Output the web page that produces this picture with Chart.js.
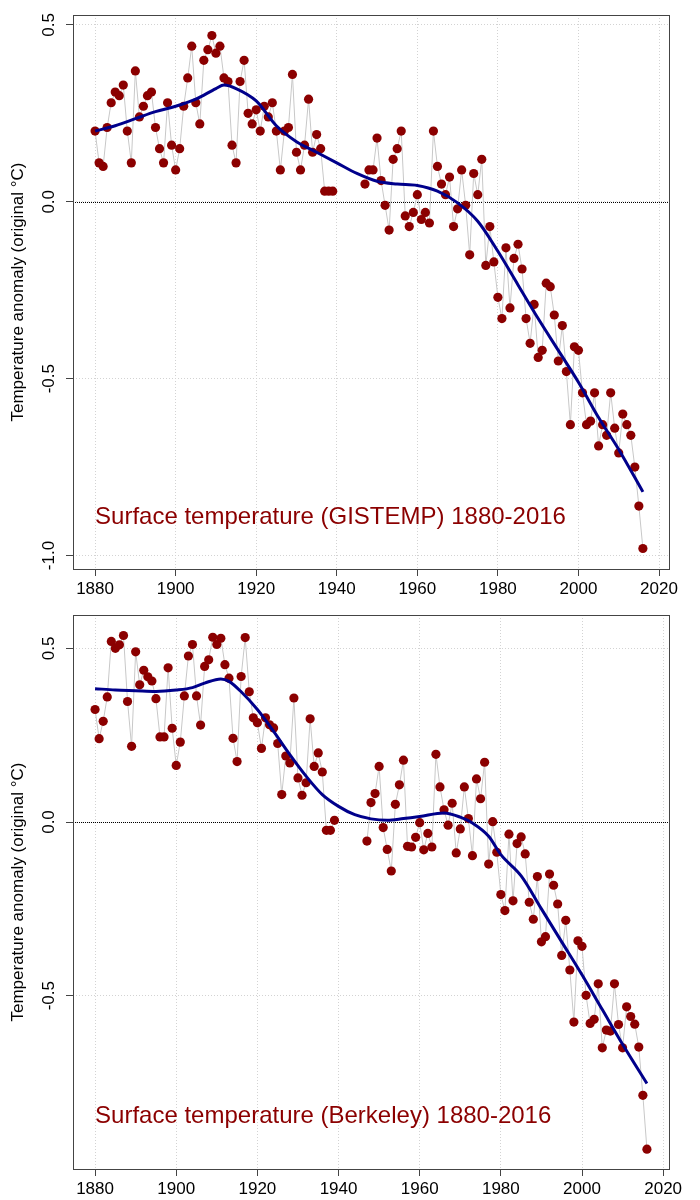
<!DOCTYPE html>
<html><head><meta charset="utf-8">
<script src="https://cdn.jsdelivr.net/npm/chart.js@4"></script>
<style>
html,body{margin:0;padding:0;background:#fff;}
canvas{display:block;}
</style></head>
<body>
<canvas id="c1" width="700" height="600"></canvas>
<canvas id="c2" width="700" height="600"></canvas>
<script>
// ---------- data ----------
const years = Array.from({length: 137}, (_, i) => 1880 + i);

const gistemp = [
  0.20,0.11,0.10,0.21,0.28,0.31,0.30,0.33,0.20,0.11,   // 1880-1889
  0.37,0.24,0.27,0.30,0.31,0.21,0.15,0.11,0.28,0.16,   // 1890-1899
  0.09,0.15,0.27,0.35,0.44,0.28,0.22,0.40,0.43,0.47,   // 1900-1909
  0.42,0.44,0.35,0.34,0.16,0.11,0.34,0.40,0.25,0.22,   // 1910-1919
  0.26,0.20,0.27,0.24,0.28,0.20,0.09,0.20,0.21,0.36,   // 1920-1929
  0.14,0.09,0.16,0.29,0.14,0.19,0.15,0.03,0.03,0.03,   // 1930-1939
  null,null,null,null,null,null,null,0.05,0.09,0.09,   // 1940-1949
  0.18,0.06,-0.01,-0.08,0.12,0.15,0.20,-0.04,-0.07,-0.03, // 1950-1959
  0.02,-0.05,-0.03,-0.06,0.20,0.10,0.05,0.02,0.07,-0.07,  // 1960-1969
  -0.02,0.09,-0.01,-0.15,0.08,0.02,0.12,-0.18,-0.07,-0.17, // 1970-1979
  -0.27,-0.33,-0.13,-0.30,-0.16,-0.12,-0.19,-0.33,-0.40,-0.29, // 1980-1989
  -0.44,-0.42,-0.23,-0.24,-0.32,-0.45,-0.35,-0.48,-0.63,-0.41, // 1990-1999
  -0.42,-0.54,-0.63,-0.62,-0.54,-0.69,-0.63,-0.66,-0.54,-0.64, // 2000-2009
  -0.71,-0.60,-0.63,-0.66,-0.75,-0.86,-0.98                     // 2010-2016
];

const berkeley = [
  0.324,0.24,0.29,0.36,0.52,0.50,0.51,0.537,0.347,0.218,     // 1880-1889
  0.49,0.395,0.437,0.418,0.406,0.355,0.245,0.245,0.444,0.27, // 1890-1899
  0.163,0.23,0.363,0.478,0.511,0.363,0.279,0.448,0.467,0.532,// 1900-1909
  0.511,0.529,0.453,0.414,0.241,0.174,0.419,0.531,0.375,0.30,// 1910-1919
  0.286,0.212,0.30,0.28,0.271,0.226,0.079,0.19,0.17,0.357,   // 1920-1929
  0.127,0.077,0.113,0.297,0.16,0.199,0.144,-0.024,-0.024,0.005, // 1930-1939
  null,null,null,null,null,null,null,-0.055,0.056,0.082,     // 1940-1949
  0.16,-0.016,-0.079,-0.141,0.051,0.107,0.178,-0.07,-0.072,-0.044, // 1950-1959
  -0.002,-0.08,-0.033,-0.072,0.195,0.101,0.035,-0.009,0.054,-0.089, // 1960-1969
  -0.02,0.101,0.01,-0.097,0.124,0.067,0.172,-0.121,0.001,-0.087,    // 1970-1979
  -0.209,-0.255,-0.035,-0.227,-0.062,-0.043,-0.092,-0.231,-0.28,-0.157, // 1980-1989
  -0.345,-0.33,-0.15,-0.182,-0.236,-0.384,-0.283,-0.426,-0.576,-0.342,  // 1990-1999
  -0.358,-0.499,-0.58,-0.568,-0.466,-0.65,-0.599,-0.602,-0.466,-0.583,  // 2000-2009
  -0.65,-0.532,-0.56,-0.582,-0.648,-0.787,-0.942                         // 2010-2016
];

const smoothYears1 = [1880,1885,1890,1895,1900,1905,1910,1912,1915,1920,1925,1930,1935,1940,1945,1950,1955,1960,1965,1970,1975,1980,1985,1990,1995,2000,2005,2010,2016];
const smoothVals1  = [0.20,0.215,0.235,0.255,0.27,0.29,0.32,0.33,0.32,0.285,0.215,0.17,0.14,0.11,0.08,0.058,0.05,0.046,0.03,-0.003,-0.055,-0.14,-0.235,-0.33,-0.42,-0.51,-0.61,-0.70,-0.82];

const smoothYears2 = [1880,1885,1890,1895,1900,1904,1907,1911,1913,1916,1920,1924,1928,1932,1936,1940,1944,1948,1952,1956,1960,1966,1970,1973,1977,1980,1985,1990,1995,2000,2005,2010,2016];
const smoothVals2  = [0.384,0.38,0.378,0.376,0.38,0.387,0.40,0.412,0.405,0.375,0.324,0.261,0.194,0.132,0.079,0.045,0.021,0.009,0.005,0.01,0.016,0.026,0.014,-0.003,-0.041,-0.094,-0.155,-0.25,-0.345,-0.44,-0.54,-0.64,-0.753];

const xTicks = [1880,1900,1920,1940,1960,1980,2000,2020];
const yTicks1 = [-1.0,-0.5,0.0,0.5];
const yTicks2 = [-0.5,0.0,0.5];

const title1 = 'Surface temperature (GISTEMP) 1880-2016';
const title2 = 'Surface temperature (Berkeley) 1880-2016';
const yTitle = 'Temperature anomaly (original \u00B0C)';

// ---------- drawing ----------
const FONT = "'Liberation Sans', Arial, Helvetica, sans-serif";

const framePlugin = {
  id: 'frame',
  beforeDatasetsDraw(chart) {
    const {ctx, chartArea: a, scales: {y}} = chart;
    const y0 = Math.round(y.getPixelForValue(0)) + 0.5;
    ctx.save();
    ctx.strokeStyle = '#000';
    ctx.lineWidth = 1;
    ctx.setLineDash([1, 1]);
    ctx.beginPath();
    ctx.moveTo(a.left, y0);
    ctx.lineTo(a.right, y0);
    ctx.stroke();
    ctx.restore();
  },
  afterDatasetsDraw(chart, args, opts) {
    const {ctx, chartArea: a, scales: {y}} = chart;
    ctx.save();
    // box
    ctx.strokeStyle = '#444';
    ctx.lineWidth = 1;
    ctx.setLineDash([]);
    ctx.strokeRect(Math.round(a.left) + 0.5, Math.round(a.top) + 0.5,
                   Math.round(a.right - a.left), Math.round(a.bottom - a.top));
    // rotated y tick labels
    ctx.fillStyle = '#000';
    ctx.font = '17px ' + FONT;
    ctx.textAlign = 'center';
    ctx.textBaseline = 'middle';
    y.ticks.forEach(t => {
      const py = y.getPixelForValue(t.value);
      ctx.save();
      ctx.translate(49, py);
      ctx.rotate(-Math.PI / 2);
      ctx.fillText(t.value.toFixed(1), 0, 0);
      ctx.restore();
    });
    // inner label
    ctx.fillStyle = '#8B0000';
    ctx.font = '24px ' + FONT;
    ctx.textAlign = 'left';
    ctx.textBaseline = 'alphabetic';
    ctx.fillText(opts.label, chart.scales.x.getPixelForValue(1880), opts.labelY);
    ctx.restore();
  }
};

function makeChart(id, vals, sYears, sVals, xMin, xMax, yMin, yMax, yTicks, label, labelY) {
  const pts = years.map((yr, i) => ({x: yr, y: vals[i]}));
  const smooth = sYears.map((yr, i) => ({x: yr, y: sVals[i]}));
  const gridOpts = {color: '#D3D3D3', lineWidth: 1, tickColor: '#444', tickLength: 7, tickWidth: 1, drawTicks: true};
  return new Chart(document.getElementById(id), {
    type: 'line',
    data: {datasets: [
      {data: smooth, borderColor: '#00008B', borderWidth: 3, pointRadius: 0,
       cubicInterpolationMode: 'monotone', fill: false, order: 0},
      {data: pts, borderColor: '#C8C8C8', borderWidth: 1, pointRadius: 4.6,
       pointBackgroundColor: '#8B0000', pointBorderColor: '#8B0000', pointBorderWidth: 0,
       spanGaps: false, tension: 0, fill: false, order: 1}
    ]},
    options: {
      responsive: false,
      animation: false,
      layout: {padding: {left: 0, top: 15, right: 31, bottom: 0}},
      plugins: {legend: {display: false}, tooltip: {enabled: false},
                frame: {label: label, labelY: labelY}},
      scales: {
        x: {
          type: 'linear', min: xMin, max: xMax,
          afterBuildTicks: s => { s.ticks = xTicks.map(v => ({value: v})); },
          afterFit: s => { s.height = 31; },
          grid: gridOpts,
          border: {display: false, dash: [1, 2]},
          ticks: {color: '#000', font: {family: FONT, size: 17}, padding: 3,
                  maxRotation: 0, autoSkip: false, callback: v => String(v)}
        },
        y: {
          type: 'linear', min: yMin, max: yMax,
          afterBuildTicks: s => { s.ticks = yTicks.map(v => ({value: v})); },
          afterFit: s => { s.width = 73; },
          grid: gridOpts,
          border: {display: false, dash: [1, 2]},
          ticks: {display: false},
          title: {display: true, text: yTitle, color: '#000',
                  font: {family: FONT, size: 17}, padding: {top: 8, bottom: 0}}
        }
      }
    },
    plugins: [framePlugin]
  });
}

makeChart('c1', gistemp, smoothYears1, smoothVals1, 1874.52, 2022.48, -1.038, 0.528, yTicks1, title1, 524);
makeChart('c2', berkeley, smoothYears2, smoothVals2, 1874.56, 2021.44, -0.999, 0.596, yTicks2, title2, 523);
</script>
</body></html>
